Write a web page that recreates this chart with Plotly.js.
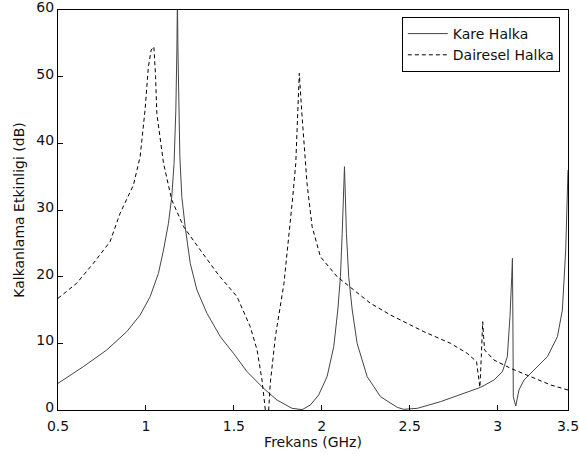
<!DOCTYPE html>
<html>
<head>
<meta charset="utf-8">
<script src="https://cdn.plot.ly/plotly-3.0.1.min.js"></script>
<style>html,body{margin:0;padding:0;background:#fff;}#chart{width:579px;height:460px;}</style>
</head>
<body>
<div id="chart"></div>
<script>
// Kare Halka (solid)
const kareX = [0.5,0.644,0.777,0.891,0.967,1.024,1.071,1.100,1.128,1.147,1.160,1.170,1.176,1.179,1.182,1.186,1.193,1.204,1.223,1.252,1.290,1.347,1.423,1.498,1.575,1.669,1.745,1.831,1.888,1.935,1.982,2.030,2.068,2.091,2.106,2.116,2.125,2.129,2.133,2.140,2.153,2.173,2.201,2.258,2.334,2.429,2.466,2.543,2.675,2.808,2.903,2.979,3.027,3.055,3.070,3.080,3.084,3.087,3.089,3.103,3.121,3.150,3.207,3.283,3.340,3.368,3.387,3.397,3.400];
const kareY = [4.0,6.5,9.0,11.75,14.25,17.0,20.5,24,28,32,37,45,54,62,54,45,38,32,27.5,22,18,14.5,11,8.5,5.75,3.25,1.5,0.25,0.05,0.75,2.25,5,9.5,15,20,26.5,33,36.5,33,26.5,20,15,10,5,2,0.4,0.1,0.25,1.25,2.5,3.4,4.5,5.75,8,14,20,22.75,12,2,0.6,3,4.5,6,8,11,15,24,32.5,36];
// Dairesel Halka (dashed)
const daireX = [0.5,0.606,0.701,0.796,0.853,0.929,0.967,0.995,1.014,1.030,1.045,1.055,1.062,1.100,1.147,1.214,1.309,1.413,1.518,1.593,1.632,1.660,1.679,1.698,1.707,1.736,1.785,1.815,1.835,1.852,1.862,1.872,1.888,1.916,1.945,1.992,2.087,2.182,2.277,2.391,2.448,2.580,2.732,2.827,2.880,2.894,2.899,2.907,2.915,2.920,2.926,2.979,3.074,3.188,3.302,3.400];
const daireY = [16.75,19,22,25.25,29.5,33.75,38,45,51.5,54,54.5,50,44.5,37,31.5,27.5,24,20.25,17,12.5,9,4.5,0,0,4,11,19,26.5,32,37,45,50.5,44,34,27.5,23,20,18,16,14.25,13.5,11.75,10,8.5,7.25,4,3.4,8,13.25,11,9,7.5,6.25,5,3.75,3];
const xTickVals = [0.5,1,1.5,2,2.5,3,3.4];
const xTickText = ["0.5","1","1.5","2","2.5","3","3.5"];
const yTickVals = [0,10,20,30,40,50,60];

const font = {family:'"DejaVu Sans", Arial, sans-serif', size:14, color:'#111'};
const traces = [
  {x:kareX, y:kareY, type:'scatter', mode:'lines', name:'Kare Halka', line:{color:'#444', width:1}},
  {x:daireX, y:daireY, type:'scatter', mode:'lines', name:'Dairesel Halka', line:{color:'#000', width:1, dash:'4px,3px'}}
];
const layout = {
  width:579, height:460,
  margin:{l:58, r:11, t:10, b:50},
  paper_bgcolor:'#fff', plot_bgcolor:'#fff',
  font:font,
  showlegend:true,
  legend:{x:0.984, y:0.9825, xanchor:'right', yanchor:'top', bgcolor:'#fff', bordercolor:'#000', borderwidth:1, font:font, itemwidth:40},
  xaxis:{range:[0.5,3.4], tickvals:xTickVals, ticktext:xTickText, ticks:'inside', ticklen:5, tickcolor:'#000',
         ticklabeloverflow:'allow', ticklabelstandoff:3,
         showline:true, linecolor:'#000', linewidth:1, mirror:true, showgrid:false, zeroline:false,
         title:{text:'Frekans (GHz)', font:font, standoff:4}},
  yaxis:{range:[0,60], tickvals:yTickVals, ticks:'inside', ticklen:5, tickcolor:'#000', ticklabelshift:-3,
         ticklabeloverflow:'allow',
         showline:true, linecolor:'#000', linewidth:1, mirror:true, showgrid:false, zeroline:false,
         title:{text:'Kalkanlama Etkinligi (dB)', font:font, standoff:8}}
};
Plotly.newPlot('chart', traces, layout, {displayModeBar:false, staticPlot:true});
</script>
</body>
</html>
